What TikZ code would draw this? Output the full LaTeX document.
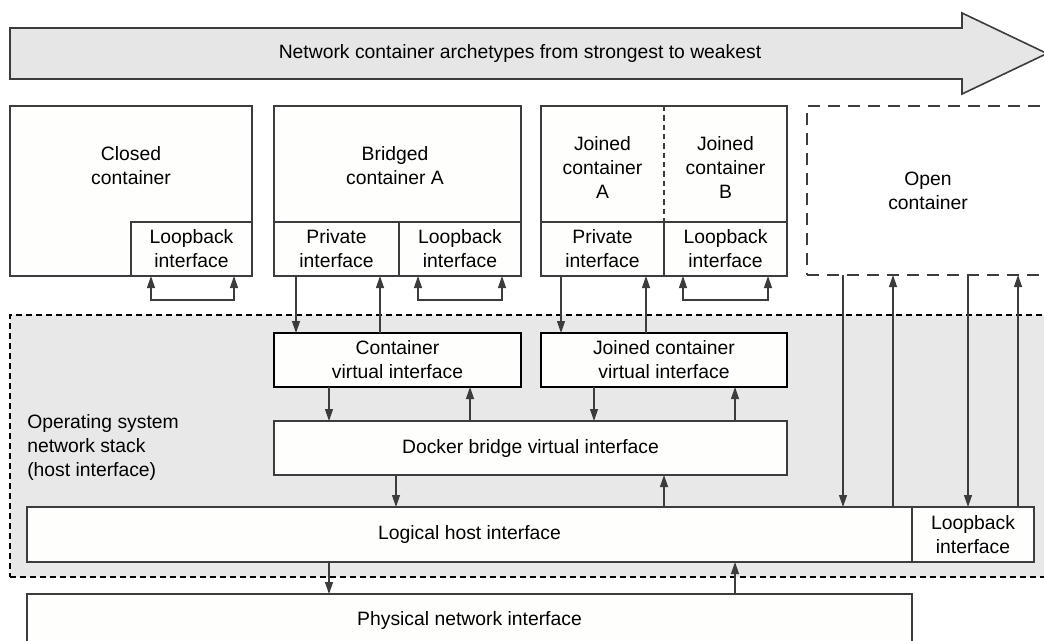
\documentclass[tikz,border=0pt]{standalone}
\usepackage{fontspec}
\setmainfont{Liberation Sans}
\usetikzlibrary{arrows.meta}

\definecolor{linegray}{HTML}{3C3C3C}
\definecolor{boxfill}{HTML}{FEFEFD}
\definecolor{osgray}{HTML}{E8E8E8}
\definecolor{arrowgray}{HTML}{E6E6E6}

\begin{document}
\begin{tikzpicture}[
    x=0.75pt, y=-0.75pt,
    >={Triangle[length=9pt,width=6pt]},
    font=\fontsize{14.5pt}{18pt}\selectfont,
    box/.style={rectangle, draw=linegray, fill=boxfill, line width=1.1pt, inner sep=0pt, outer sep=0pt, align=center},
    vbox/.style={box, draw=black, line width=1.8pt},
    openbox/.style={rectangle, draw=linegray, line width=1pt, dash pattern=on 9pt off 6pt, inner sep=0pt, outer sep=0pt, align=center},
    osbox/.style={rectangle, draw=black, fill=osgray, line width=1pt, dash pattern=on 4.5pt off 3pt, inner sep=0pt, outer sep=0pt},
    txt/.style={align=center, inner sep=0pt},
    link/.style={draw=linegray, line width=0.9pt},
]
    \useasboundingbox (0,0) rectangle (1044,641);
    \clip (0,0) rectangle (1044,641);

    % Archetype arrow
    \draw[fill=arrowgray, draw=linegray, line width=1.2pt] (10,28) -- (962,28) -- (962,13) -- (1047,53.5) -- (962,94) -- (962,79) -- (10,79) -- cycle;
    \node[txt] (title) at (520,53.5) {Network container archetypes from strongest to weakest};

    % Host network stack
    \node[osbox, minimum width=810pt, minimum height=196.5pt] (os) at (550,446) {};
    \node[txt, anchor=west, align=left] (ostxt) at (27,447) {Operating system\\network stack\\(host interface)};

    % Closed container
    \node[box, minimum width=181.5pt, minimum height=127.5pt] (closed) at (131,191) {};
    \node[txt] (closedtxt) at (131,166) {Closed\\container};
    \node[box, minimum width=90.75pt, minimum height=40.5pt] (cloop) at (191.5,249) {Loopback\\interface};

    % Bridged container
    \node[box, minimum width=185.25pt, minimum height=127.5pt] (bridged) at (397.5,191) {};
    \node[txt] (bridgedtxt) at (395,166) {Bridged\\container A};
    \node[box, minimum width=93.75pt, minimum height=40.5pt] (bpriv) at (336.5,249) {Private\\interface};
    \node[box, minimum width=91.5pt, minimum height=40.5pt] (bloop) at (460,249) {Loopback\\interface};

    % Joined containers
    \node[box, minimum width=184.5pt, minimum height=127.5pt] (joined) at (664,191) {};
    \node[txt] (joinedA) at (602.5,167) {Joined\\container\\A};
    \node[txt] (joinedB) at (725.5,167) {Joined\\container\\B};
    \node[box, minimum width=92.25pt, minimum height=40.5pt] (jpriv) at (602.5,249) {Private\\interface};
    \node[box, minimum width=92.25pt, minimum height=40.5pt] (jloop) at (725.5,249) {Loopback\\interface};
    \draw[linegray, line width=0.9pt, dash pattern=on 4pt off 3pt] (joined.north) -- (jpriv.north east);

    % Open container
    \node[openbox, minimum width=181.5pt, minimum height=126.75pt] (open) at (928,190.5) {Open\\container};

    % Virtual interfaces
    \node[vbox, minimum width=185.25pt, minimum height=40.5pt] (cvi) at (397.5,360) {Container\\virtual interface};
    \node[vbox, minimum width=184.5pt, minimum height=40.5pt] (jcvi) at (664,360) {Joined container\\virtual interface};
    \node[box, minimum width=384.75pt, minimum height=40.5pt] (docker) at (530.5,448) {Docker bridge virtual interface};

    % Host interfaces
    \node[box, minimum width=663.75pt, minimum height=41.25pt] (logical) at (469.5,534.5) {Logical host interface};
    \node[box, minimum width=91.5pt, minimum height=41.25pt] (hloop) at (973,534.5) {Loopback\\interface};
    \node[box, minimum width=663.75pt, minimum height=39pt] (physical) at (469.5,620) {Physical network interface};

    % Loopback brackets
    \coordinate (cl1) at ([xshift=15pt]cloop.south west);
    \coordinate (cl2) at ([xshift=-13.5pt]cloop.south east);
    \draw[link, <->] (cl1) -- ++(0,24) -| (cl2);
    \coordinate (bl1) at ([xshift=14.25pt]bloop.south west);
    \coordinate (bl2) at ([xshift=-14.25pt]bloop.south east);
    \draw[link, <->] (bl1) -- ++(0,24) -| (bl2);
    \coordinate (jl1) at ([xshift=14.25pt]jloop.south west);
    \coordinate (jl2) at ([xshift=-14.25pt]jloop.south east);
    \draw[link, <->] (jl1) -- ++(0,24) -| (jl2);

    % Private interfaces to virtual interfaces
    \coordinate (bp1) at ([xshift=16.5pt]bpriv.south west);
    \coordinate (bp2) at ([xshift=79.5pt]bpriv.south west);
    \draw[link, ->] (bp1) -- (bp1 |- cvi.north);
    \draw[link, <-] (bp2) -- (bp2 |- cvi.north);
    \coordinate (jp1) at ([xshift=15pt]jpriv.south west);
    \coordinate (jp2) at ([xshift=78.75pt]jpriv.south west);
    \draw[link, ->] (jp1) -- (jp1 |- jcvi.north);
    \draw[link, <-] (jp2) -- (jp2 |- jcvi.north);

    % Virtual interfaces to bridge
    \coordinate (cv1) at ([xshift=41.25pt]cvi.south west);
    \coordinate (cv2) at ([xshift=147pt]cvi.south west);
    \draw[link, ->] (cv1) -- (cv1 |- docker.north);
    \draw[link, <-] (cv2) -- (cv2 |- docker.north);
    \coordinate (jv1) at ([xshift=39.75pt]jcvi.south west);
    \coordinate (jv2) at ([xshift=145.5pt]jcvi.south west);
    \draw[link, ->] (jv1) -- (jv1 |- docker.north);
    \draw[link, <-] (jv2) -- (jv2 |- docker.north);

    % Bridge to host
    \coordinate (db1) at ([xshift=91.5pt]docker.south west);
    \coordinate (db2) at ([xshift=292.5pt]docker.south west);
    \draw[link, ->] (db1) -- (db1 |- logical.north);
    \draw[link, <-] (db2) -- (db2 |- logical.north);

    % Open container to host
    \coordinate (op1) at ([xshift=27pt]open.south west);
    \coordinate (op2) at ([xshift=64.5pt]open.south west);
    \coordinate (op3) at ([xshift=120.75pt]open.south west);
    \coordinate (op4) at ([xshift=158.25pt]open.south west);
    \draw[link, ->] (op1) -- (op1 |- logical.north);
    \draw[link, <-] (op2) -- (op2 |- logical.north);
    \draw[link, ->] (op3) -- (op3 |- hloop.north);
    \draw[link, <-] (op4) -- (op4 |- hloop.north);

    % Host to physical
    \coordinate (lg1) at ([xshift=226.5pt]logical.south west);
    \coordinate (lg2) at ([xshift=531pt]logical.south west);
    \draw[link, ->] (lg1) -- (lg1 |- physical.north);
    \draw[link, <-] (lg2) -- (lg2 |- physical.north);
\end{tikzpicture}
\end{document}
